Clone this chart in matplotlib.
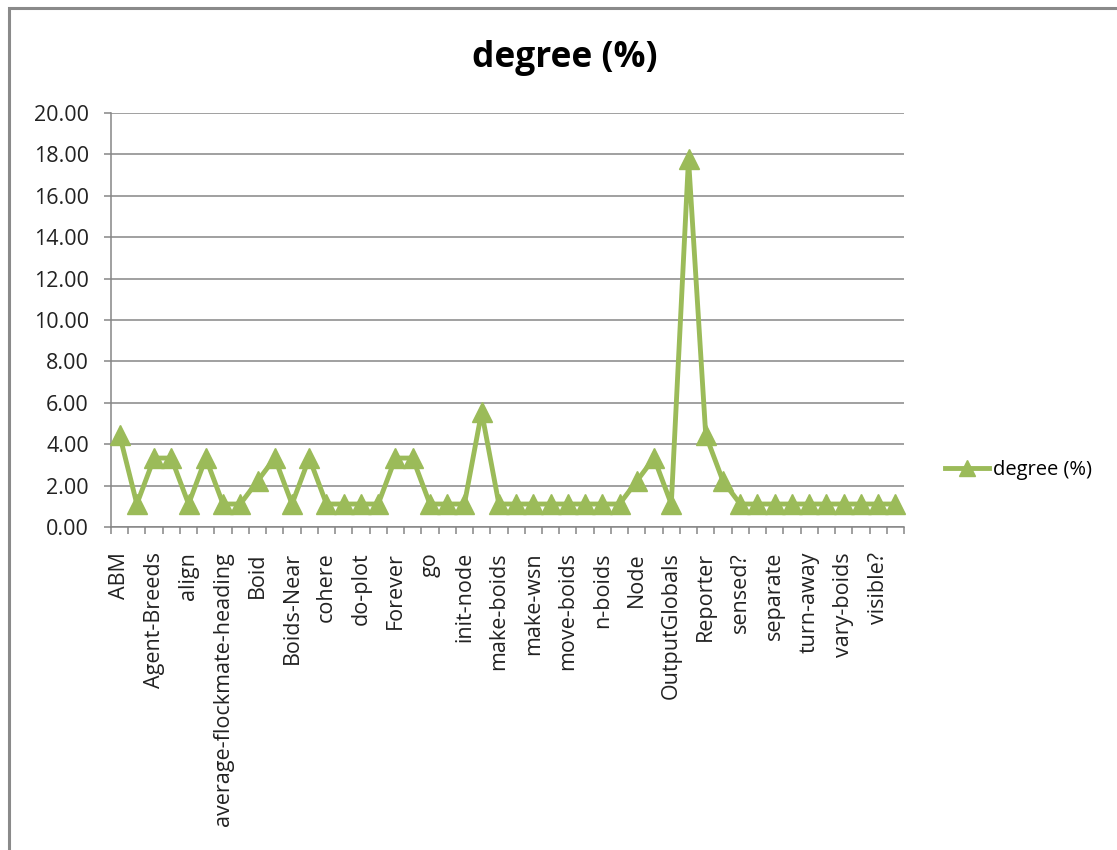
import matplotlib
matplotlib.use('Agg')
import matplotlib.pyplot as plt
from matplotlib.patches import Rectangle
from matplotlib.ticker import FixedLocator, FuncFormatter

# Category labels shown on the axis (every other category is labelled)
shown_labels = ['ABM', 'Agent-Breeds', 'align', 'average-flockmate-heading', 'Boid',
                'Boids-Near', 'cohere', 'do-plot', 'Forever', 'go', 'init-node',
                'make-boids', 'make-wsn', 'move-boids', 'n-boids', 'Node',
                'OutputGlobals', 'Reporter', 'sensed?', 'separate', 'turn-away',
                'vary-boids', 'visible?']

# degree (%) for the 46 categories
degree = [4.44, 1.11, 3.33, 3.33, 1.11, 3.33, 1.11, 1.11, 2.22, 3.33,
          1.11, 3.33, 1.11, 1.11, 1.11, 1.11, 3.33, 3.33, 1.11, 1.11,
          1.11, 5.56, 1.11, 1.11, 1.11, 1.11, 1.11, 1.11, 1.11, 1.11,
          2.22, 3.33, 1.11, 17.78, 4.44, 2.22, 1.11, 1.11, 1.11, 1.11,
          1.11, 1.11, 1.11, 1.11, 1.11, 1.11]

y_ticks = [0, 2, 4, 6, 8, 10, 12, 14, 16, 18, 20]

green = '#9BBB59'
grid_gray = '#868686'
fs = 15.5
plt.rcParams['font.family'] = ['Open Sans', 'DejaVu Sans']

fig = plt.figure(figsize=(11.17, 8.5), dpi=100)
ax = fig.add_axes([111 / 1117, 1 - 527 / 850, (904 - 111) / 1117, (527 - 113) / 850])

x = list(range(len(degree)))
ax.plot(x, degree, color=green, linewidth=3.5, marker='^', markersize=15,
        markeredgecolor=green, label='degree (%)', clip_on=False, zorder=3)

ax.set_xlim(-0.5, len(degree) - 0.5)
ax.set_ylim(0, 20)
ax.set_yticks(y_ticks)
ax.yaxis.set_major_formatter(FuncFormatter(lambda v, p: '{:.2f}'.format(v)))
ax.grid(axis='y', color=grid_gray, linewidth=1.1)
ax.set_axisbelow(True)

# labels at even categories, tick marks at category boundaries
ax.set_xticks(x[::2])
ax.set_xticklabels(shown_labels, rotation=90, ha='center', va='top')
ax.xaxis.set_minor_locator(FixedLocator([i - 0.5 for i in range(len(degree) + 1)]))
ax.tick_params(axis='x', which='major', length=0, pad=18, labelsize=fs, colors='#222222')
ax.tick_params(axis='x', which='minor', length=5, width=1.1, color=grid_gray)
ax.tick_params(axis='y', length=5, width=1.1, color=grid_gray, pad=11, labelsize=fs,
               labelcolor='#222222')

for s in ['top', 'right']:
    ax.spines[s].set_visible(False)
for s in ['left', 'bottom']:
    ax.spines[s].set_color(grid_gray)
    ax.spines[s].set_linewidth(1.1)

fig.text(565 / 1117, 1 - 58 / 850, 'degree (%)', ha='center', va='center',
         fontsize=25.5, fontweight='bold', color='black')

ax.legend(loc='center left', bbox_to_anchor=(927 / 1117, 1 - 470 / 850),
          bbox_transform=fig.transFigure, frameon=False, fontsize=fs - 1,
          handlelength=2.2, handletextpad=0.2, markerscale=0.75)

# chart border
fig.patches.append(Rectangle((9 / 1117, -0.1), 1.2, 1.1 - 8 / 850, transform=fig.transFigure,
                             fill=False, edgecolor='#8a8a8a', linewidth=2.2))

fig.savefig('out.png', dpi=100)
